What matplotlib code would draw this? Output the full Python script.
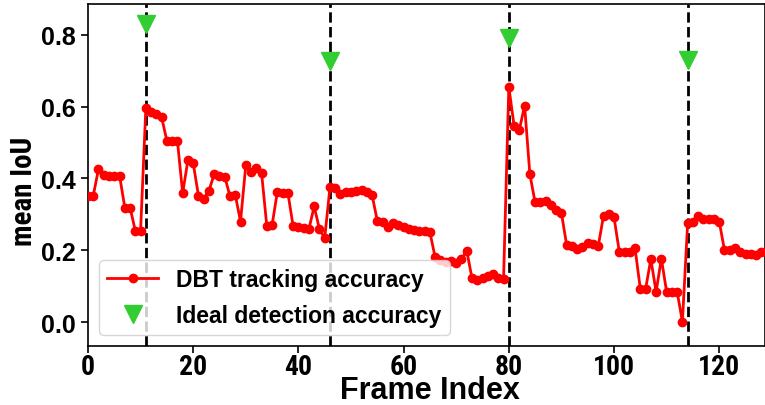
import matplotlib
matplotlib.use("Agg")
import matplotlib.pyplot as plt
from matplotlib import font_manager as fm

# --- data ---
frames = list(range(0, 129))
iou = [
    0.352, 0.352, 0.426, 0.410, 0.408, 0.408, 0.408, 0.319, 0.319, 0.254,
    0.254, 0.595, 0.586, 0.578, 0.570, 0.505, 0.505, 0.505, 0.359, 0.451,
    0.443, 0.352, 0.343, 0.366, 0.412, 0.406, 0.405, 0.350, 0.354, 0.280,
    0.437, 0.419, 0.430, 0.415, 0.267, 0.270, 0.363, 0.360, 0.360, 0.267,
    0.264, 0.261, 0.259, 0.322, 0.259, 0.234, 0.375, 0.372, 0.357, 0.361,
    0.363, 0.366, 0.369, 0.361, 0.354, 0.282, 0.278, 0.266, 0.275, 0.270,
    0.264, 0.259, 0.257, 0.254, 0.253, 0.250, 0.180, 0.172, 0.168, 0.171,
    0.164, 0.175, 0.199, 0.122, 0.118, 0.124, 0.127, 0.134, 0.124, 0.120,
    0.655, 0.547, 0.535, 0.603, 0.412, 0.333, 0.335, 0.338, 0.326, 0.313,
    0.304, 0.214, 0.211, 0.203, 0.208, 0.220, 0.217, 0.211, 0.296, 0.301,
    0.292, 0.196, 0.194, 0.196, 0.205, 0.092, 0.092, 0.175, 0.084, 0.177,
    0.084, 0.084, 0.084, 0.001, 0.276, 0.278, 0.294, 0.287, 0.287, 0.287,
    0.280, 0.200, 0.200, 0.205, 0.196, 0.189, 0.189, 0.187, 0.194,
]
detect_frames = [11, 46, 80, 114]
detect_iou = [0.83, 0.727, 0.79, 0.73]
xticks = [0, 20, 40, 60, 80, 100, 120]
yticks = [0.0, 0.2, 0.4, 0.6, 0.8]


def find_condensed():
    prefs = ['Liberation Sans Narrow', 'Roboto Condensed', 'Open Sans Condensed',
             'Noto Sans', 'DejaVu Sans', 'Roboto', 'Open Sans', 'Inter']
    cands = []
    for f in fm.fontManager.ttflist:
        nm = f.name
        fname = f.fname.lower()
        cond = ('narrow' in nm.lower() or 'condensed' in nm.lower()
                or 'condensed' in fname or 'narrow' in fname
                or str(f.stretch) in ('condensed', 'semi-condensed', '500', '400', 'extra-condensed'))
        if not cond:
            continue
        if 'italic' in fname or 'oblique' in fname:
            continue
        w = f.weight
        try:
            w = int(w)
        except Exception:
            w = 700 if 'bold' in str(w) else 400
        if w < 600 and 'bold' not in fname:
            continue
        if 'extra' in fname or 'black' in fname or 'semibold' in fname:
            continue
        rank = prefs.index(nm) if nm in prefs else len(prefs)
        if 'semicondensed' in fname:
            rank += 0.5
        cands.append((rank, f.fname))
    if cands:
        cands.sort()
        return cands[0][1]
    return None


cond_file = find_condensed()
plt.rcParams['font.family'] = ['Liberation Sans', 'DejaVu Sans']
plt.rcParams['font.weight'] = 'bold'

if cond_file:
    yl_prop = fm.FontProperties(fname=cond_file, size=21)
    xt_prop = fm.FontProperties(fname=cond_file, size=20)
else:
    yl_prop = fm.FontProperties(family='Liberation Sans', weight='bold', size=16)
    xt_prop = fm.FontProperties(family='Liberation Sans', weight='bold', size=18)
xl_prop = fm.FontProperties(family='Liberation Sans', weight='bold', size=22)

fig = plt.figure(figsize=(7.65, 4.06), dpi=100)
ax = fig.add_axes([0.115, 0.145, 0.885, 0.843])

for xf in detect_frames:
    ax.axvline(xf, color='black', linestyle='--', linewidth=2, zorder=1)

ax.plot(frames, iou, color='red', marker='o', markersize=6, linewidth=2,
        label='DBT tracking accuracy', zorder=3)
ax.plot(detect_frames, detect_iou, linestyle='none', marker='v',
        markersize=13, color='limegreen', label='Ideal detection accuracy', zorder=4)

ax.set_xlim(0, 128.7)
ax.set_ylim(-0.067, 0.886)
ax.set_xticks(xticks)
ax.set_yticks(yticks)
ax.set_yticklabels([f'{v:.1f}' for v in yticks], fontsize=18, fontweight='bold')
ax.set_xticklabels([str(v) for v in xticks], fontproperties=xt_prop)
ax.tick_params(axis='both', direction='out', length=5, width=1.2)
ax.tick_params(axis='x', pad=0)

ax.set_xlabel('Frame Index', fontproperties=xl_prop)
ax.xaxis.set_label_coords(0.505, -0.1516)
ax.xaxis.label.set_verticalalignment('baseline')

ax.set_ylabel('mean IoU', fontproperties=yl_prop)
ax.yaxis.set_label_coords(-0.094, 0.456)
ax.yaxis.label.set_verticalalignment('center')

leg = ax.legend(loc='lower left', frameon=True, fancybox=True,
                prop={'weight': 'bold', 'size': 16.5, 'family': 'Liberation Sans'},
                borderpad=0.35, handlelength=2.2, labelspacing=0.55,
                bbox_to_anchor=(0.0, 0.0))
leg.get_frame().set_edgecolor('#cccccc')

for s in ax.spines.values():
    s.set_linewidth(1.2)

fig.savefig('out.png', dpi=100)
